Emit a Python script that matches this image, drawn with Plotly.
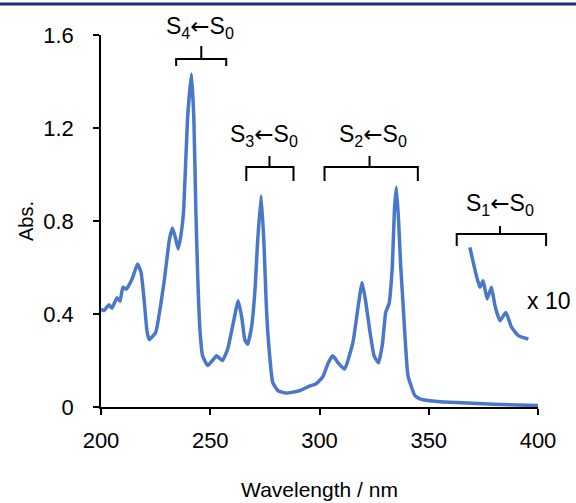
import plotly.graph_objects as go

# Main absorption spectrum (wavelength nm, absorbance)
wavelength = [200, 201.4, 203.7, 205, 207.3, 208.7, 210, 211.6, 214.2, 216.7, 218.3, 219.7,
              221, 222, 225, 228.9, 231.3, 232.7, 234.0, 235.3, 236.6, 237.8, 239.6, 241.4,
              242.5, 243.4, 244.3, 245.3, 246.5, 248.8, 251, 252.9, 255.6, 258, 260.5, 262.8,
              264.5, 265.8, 267.1, 269, 270.6, 271.6, 273.3, 274.6, 275.6, 276.5, 278.6, 281,
              284.7, 290.8, 295.4, 298.5, 301.5, 304, 306.1, 308.5, 311.5, 315.3, 317.5, 319.5,
              321.2, 322.9, 325, 327, 328.8, 330.3, 331.8, 333.3, 334.3, 335.2, 336.2, 337.2,
              338.2, 340.5, 343.6, 346, 350.5, 360, 380, 400]
absorbance = [0.42, 0.415, 0.44, 0.425, 0.47, 0.455, 0.515, 0.507, 0.55, 0.615, 0.58, 0.465,
              0.33, 0.29, 0.32, 0.54, 0.72, 0.77, 0.73, 0.68, 0.74, 0.84, 1.24, 1.432,
              1.24, 0.85, 0.55, 0.33, 0.22, 0.178, 0.2, 0.22, 0.2, 0.25, 0.36, 0.457,
              0.38, 0.29, 0.27, 0.35, 0.52, 0.7, 0.909, 0.7, 0.45, 0.3, 0.106, 0.07,
              0.06, 0.07, 0.09, 0.1, 0.13, 0.19, 0.22, 0.19, 0.163, 0.278, 0.42, 0.536,
              0.45, 0.335, 0.22, 0.19, 0.27, 0.407, 0.443, 0.6, 0.85, 0.945, 0.8, 0.6,
              0.45, 0.135, 0.05, 0.035, 0.027, 0.02, 0.012, 0.006]

# S1 <- S0 region, magnified x10
wavelength_x10 = [368.8, 371.8, 373.4, 374.9, 376.7, 378.7, 380.3, 382.6, 385.3, 387.9, 391, 395.6]
absorbance_x10 = [0.687, 0.565, 0.515, 0.543, 0.465, 0.515, 0.436, 0.371, 0.407, 0.343, 0.307, 0.292]

x_ticks = [200, 250, 300, 350, 400]
y_ticks = [0, 0.4, 0.8, 1.2, 1.6]
y_tick_text = ["0", "0.4", "0.8", "1.2", "1.6"]

ARROW = "<span style='font-family:DejaVu Sans'>←</span>"
# Transition labels: text, x (nm), y (Abs)
band_labels = [f"S<sub>4</sub>{ARROW}S<sub>0</sub>", f"S<sub>3</sub>{ARROW}S<sub>0</sub>",
               f"S<sub>2</sub>{ARROW}S<sub>0</sub>", f"S<sub>1</sub>{ARROW}S<sub>0</sub>", "x 10"]
band_label_x = [245.4, 274.8, 324.3, 382.6, 404.6]
band_label_y = [1.632, 1.166, 1.166, 0.873, 0.455]

# Brackets: left nm, right nm, centre nm, top Abs, end Abs, tick-top Abs
bracket_left = [234.4, 266.5, 302.3, 362.8]
bracket_right = [257.3, 288.1, 345.0, 403.7]
bracket_center = [245.9, 277.1, 322.9, 382.6]
bracket_top = [1.497, 1.032, 1.032, 0.744]
bracket_end = [1.467, 0.972, 0.972, 0.692]
bracket_tick = [1.553, 1.080, 1.080, 0.778]

X0, X1 = 200, 400
Y0, Y1 = 0, 1.6
LINE_COLOR = "#4a78c8"
FONT = "Liberation Sans, Arial, sans-serif"


def dx(v):
    return (v - X0) / (X1 - X0)


def dy(v):
    return (v - Y0) / (Y1 - Y0)


fig = go.Figure()
fig.add_trace(go.Scatter(x=wavelength, y=absorbance, mode="lines",
                         line=dict(color=LINE_COLOR, width=3.5, shape="spline", smoothing=0.4),
                         hoverinfo="skip", showlegend=False))
fig.add_trace(go.Scatter(x=wavelength_x10, y=absorbance_x10, mode="lines",
                         line=dict(color=LINE_COLOR, width=3.5, shape="spline", smoothing=0.4),
                         hoverinfo="skip", showlegend=False))

shapes = []
for l, r, c, t, e, k in zip(bracket_left, bracket_right, bracket_center,
                            bracket_top, bracket_end, bracket_tick):
    path = (f"M {dx(l)},{dy(e)} L {dx(l)},{dy(t)} L {dx(r)},{dy(t)} L {dx(r)},{dy(e)} "
            f"M {dx(c)},{dy(t)} L {dx(c)},{dy(k)}")
    shapes.append(dict(type="path", path=path, xref="x domain", yref="y domain",
                       line=dict(color="black", width=2)))

# navy rule at top of page
shapes.append(dict(type="line", xref="paper", yref="paper", x0=-0.25, x1=1.1,
                   y0=1.083, y1=1.083, line=dict(color="#1e2b78", width=3)))

annotations = []
for txt, ax, ay in zip(band_labels, band_label_x, band_label_y):
    annotations.append(dict(x=dx(ax), y=dy(ay), xref="x domain", yref="y domain", text=txt,
                            showarrow=False, xanchor="center", yanchor="middle",
                            font=dict(family=FONT, size=23, color="black")))

fig.update_layout(
    width=576, height=503,
    margin=dict(l=101, r=38, t=35, b=96),
    paper_bgcolor="white", plot_bgcolor="white",
    font=dict(family=FONT, size=20, color="black"),
    shapes=shapes, annotations=annotations,
)
fig.update_xaxes(range=[X0, X1], tickvals=x_ticks, ticks="outside", ticklen=6, tickwidth=1.5,
                 tickcolor="black", showline=True, linecolor="black", linewidth=1.5,
                 showgrid=False, zeroline=False, ticklabelstandoff=7, automargin=False,
                 title=dict(text="Wavelength / nm", font=dict(size=21), standoff=30),
                 tickfont=dict(size=22))
fig.update_yaxes(range=[Y0, Y1], tickvals=y_ticks, ticktext=y_tick_text, ticks="outside",
                 ticklen=6, tickwidth=1.5, tickcolor="black", showline=True, linecolor="black",
                 linewidth=1.5, showgrid=False, zeroline=False, ticklabelstandoff=15,
                 automargin=False,
                 title=dict(text="Abs.", font=dict(size=20), standoff=4),
                 tickfont=dict(size=22))

fig.write_html("out.html", config={"displayModeBar": False},
               post_script="document.body.style.margin='0';")
